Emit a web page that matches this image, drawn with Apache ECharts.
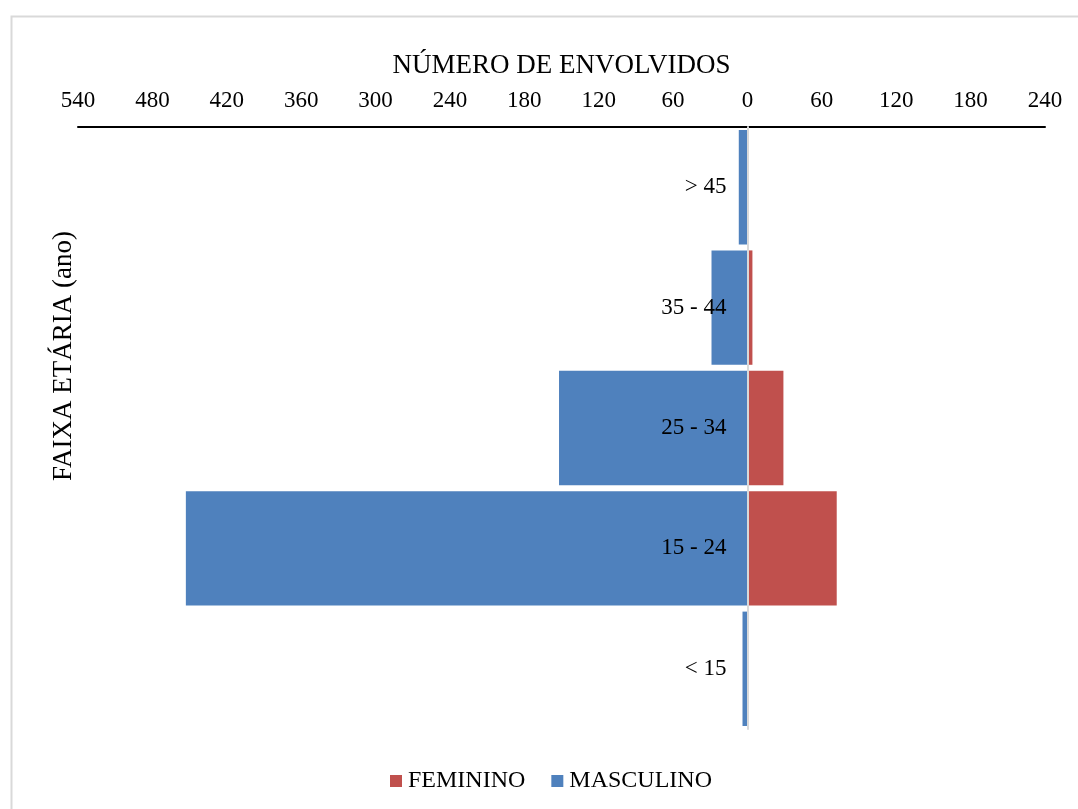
<!DOCTYPE html>
<html>
<head>
<meta charset="utf-8">
<script src="https://cdn.jsdelivr.net/npm/echarts@6/dist/echarts.min.js"></script>
<style>
  html, body { margin: 0; padding: 0; background: #ffffff; }
  #chart { width: 1078px; height: 809px; }
</style>
</head>
<body>
<div id="chart"></div>
<script>
// Age groups, bottom to top
const faixas = ['< 15', '15 - 24', '25 - 34', '35 - 44', '> 45'];
// Number of people involved per age group
const masculino = [4, 453, 152, 29, 7];
const feminino = [0, 72, 29, 4, 1];
// Axis range (men drawn to the left, as negative values)
const eixoMin = -540;
const eixoMax = 240;
const eixoPasso = 60;

const fonte = '"Liberation Serif", "Times New Roman", serif';
const gridLeft = 78;
const chart = echarts.init(document.getElementById('chart'));

chart.setOption({
  backgroundColor: '#ffffff',
  animation: false,
  textStyle: { fontFamily: fonte, color: '#000000' },
  grid: { left: gridLeft, right: 33, top: 127, bottom: 80, outerBoundsMode: 'none', containLabel: false },
  legend: {
    bottom: 11,
    left: 385,
    icon: 'rect',
    itemWidth: 12,
    itemHeight: 12,
    itemGap: 26,
    textStyle: { fontFamily: fonte, fontSize: 24, color: '#000000', padding: [0, 0, 0, 1] },
    data: ['FEMININO', 'MASCULINO']
  },
  xAxis: {
    type: 'value',
    position: 'top',
    min: eixoMin,
    max: eixoMax,
    interval: eixoPasso,
    name: 'NÚMERO DE ENVOLVIDOS',
    nameLocation: 'middle',
    nameGap: 48,
    nameTextStyle: { fontFamily: fonte, fontSize: 27, color: '#000000' },
    axisLine: { show: true, onZero: false, lineStyle: { color: '#000000', width: 2 } },
    axisTick: { show: false },
    splitLine: { show: false },
    axisLabel: {
      fontFamily: fonte,
      fontSize: 23,
      color: '#000000',
      margin: 15,
      formatter: v => String(Math.abs(v))
    }
  },
  yAxis: {
    type: 'category',
    data: faixas,
    z: 5,
    axisLine: { show: true, onZero: false, lineStyle: { color: '#d9d9d9', width: 2 } },
    axisTick: { show: false },
    splitLine: { show: false },
    axisLabel: { fontFamily: fonte, fontSize: 23, color: '#000000', margin: 21 }
  },
  series: [
    {
      name: 'FEMININO',
      type: 'bar',
      data: feminino,
      barGap: '-100%',
      barCategoryGap: '5%',
      itemStyle: { color: '#C0504D' }
    },
    {
      name: 'MASCULINO',
      type: 'bar',
      data: masculino.map(v => -v),
      barGap: '-100%',
      barCategoryGap: '5%',
      itemStyle: { color: '#4F81BD' }
    }
  ],
  graphic: [
    {
      type: 'rect',
      left: 9,
      top: 14,
      shape: { width: 1100, height: 900 },
      style: { fill: 'none', stroke: '#d9d9d9', lineWidth: 2 },
      silent: true
    },
    {
      type: 'text',
      x: 64,
      y: 356,
      rotation: Math.PI / 2,
      style: {
        text: 'FAIXA ETÁRIA (ano)',
        font: '27px ' + fonte,
        fill: '#000000',
        textAlign: 'center',
        textVerticalAlign: 'middle'
      }
    }
  ]
});

// Move the category axis (line and labels) onto the zero of the value axis
const zeroX = chart.convertToPixel({ xAxisIndex: 0 }, 0);
chart.setOption({ yAxis: { offset: -(zeroX - gridLeft) } });
</script>
</body>
</html>
